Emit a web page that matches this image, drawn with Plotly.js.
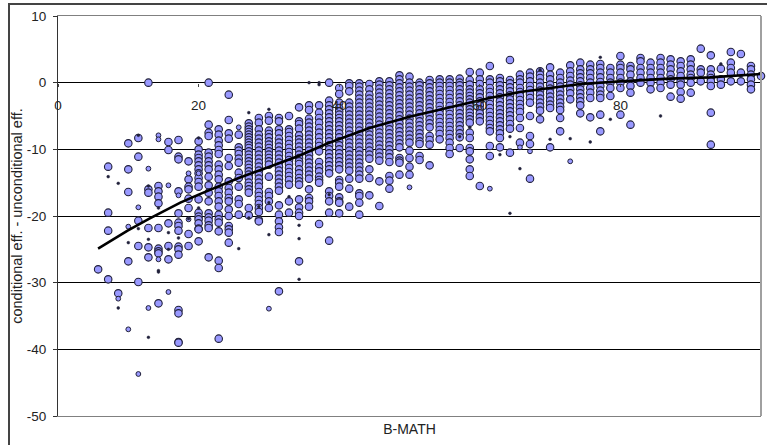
<!DOCTYPE html>
<html><head><meta charset="utf-8">
<script src="https://cdn.plot.ly/plotly-3.0.1.min.js"></script>
<style>
html,body{margin:0;padding:0;background:#fff;overflow:hidden}
#frame{position:absolute;left:8px;top:3px;width:759px;height:442px;border-left:2px solid #444;border-top:2px solid #444;box-sizing:border-box}
#chart{position:absolute;left:0;top:0;width:767px;height:445px}
</style></head><body>
<div id="frame"></div><div id="chart"></div>
<script>
// B-MATH score columns (one score step each)
const bMath = [5.71,7.14,8.57,10,11.43,12.86,14.29,15.71,17.14,18.57,20,21.43,22.86,24.29,25.71,27.14,28.57,30,31.43,32.86,34.29,35.71,37.14,38.57,40,41.43,42.86,44.29,45.71,47.14,48.57,50,51.43,52.86,54.29,55.71,57.14,58.57,60,61.43,62.86,64.29,65.71,67.14,68.57,70,71.43,72.86,74.29,75.71,77.14,78.57,80,81.43,82.86,84.29,85.71,87.14,88.57,90,91.43,92.86,94.29,95.71,97.14,98.57,100];
// Large-bubble values, one list per column
const largeDiff = [
[-28],
[-12.6,-19.5,-22.2,-29.5],
[-31.6],
[-9.1,-13,-16.4,-26.8],
[-8.3,-11.1,-20.7,-24.5,-29.9],
[0,-16,-16.5,-21.8,-24.7,-26.2],
[-15.5,-16.3,-17.1,-18.1,-21.8,-24.9,-25.3,-25.6,-33.1],
[-8.9,-10.1,-21.1,-24.5,-26.5],
[-8.6,-11.1,-11.5,-16.3,-19.6,-21,-21.5,-22.2,-24.6,-25,-25.8,-34.1,-34.6,-38.9,-39],
[-11.8,-14.5,-15.6,-16,-17.4,-18.8,-22.7,-24.5],
[-8.8,-10,-10.8,-11.3,-11.8,-12.4,-13,-13.6,-14.3,-14.9,-15.6,-17.5,-19.5,-20.1,-20.5,-21.1,-21.9,-22,-23.8],
[0,-6.3,-7.5,-8,-10.5,-11.1,-11.8,-12.4,-13,-14.1,-15.4,-16.5,-17.8,-19.6,-20.2,-20.7,-21.4,-21.8,-26.2],
[-7,-7.8,-8.7,-9.4,-10.1,-10.7,-12.3,-13,-13.8,-14.5,-15.6,-16.3,-17,-17.8,-18.6,-19.8,-20.5,-21,-22.3,-26.7,-27.8,-38.4],
[-1.8,-5.6,-7.6,-8.4,-11.3,-12.5,-14.8,-15.8,-16.5,-17.3,-17.8,-19,-20,-21.5,-22,-22.5,-24],
[-7.8,-9.7,-10.2,-10.7,-11.4,-12,-13.5,-14.3,-15.6,-17.5,-18.2,-19.8],
[-6.1,-6.6,-7,-7.4,-7.8,-8.2,-8.6,-9,-9.4,-9.8,-10.3,-10.8,-11.3,-11.8,-12.3,-12.8,-13.3,-13.8,-14.3,-15,-15.5,-16,-16.5,-18.8,-19.9],
[-5.3,-6,-7,-7.8,-8.4,-9,-9.6,-10.2,-10.8,-11.4,-12,-12.6,-13.2,-13.8,-14.4,-15,-15.6,-16.4,-17,-17.6,-18.2,-18.8,-19.4,-20.6,-20.8],
[-5,-5.7,-7.2,-7.7,-8.2,-8.8,-9.3,-9.8,-10.3,-10.8,-11.3,-11.8,-12.3,-14.1,-16.4,-17,-17.8,-18.8],
[-5.3,-5.8,-7,-7.6,-8.4,-9,-9.6,-10.2,-10.8,-11.4,-12,-12.6,-13.2,-13.8,-14.4,-15,-15.6,-16.2,-18.4,-19.8,-20.8,-21.7,-22.4,-31.3],
[-5,-7,-7.4,-8,-8.6,-9.2,-9.8,-10.4,-11,-11.6,-12.2,-12.8,-13.4,-14,-14.6,-15.3,-17.8,-19.5],
[-3.7,-5.8,-6.2,-6.9,-7.9,-8.5,-9,-9.6,-10.2,-10.8,-11.3,-11.8,-12.2,-13,-13.6,-14.3,-14.8,-15.3,-17.5,-18.7,-19.5,-20,-26.8],
[-3.4,-4.1,-5.4,-6,-6.6,-7.2,-7.8,-8.4,-9,-9.6,-10.2,-10.8,-11.4,-12,-12.6,-13.2,-13.8,-14.4,-16,-17.3,-17.8,-18.6],
[-3.4,-4.5,-5.3,-6,-6.8,-7.5,-8.2,-8.9,-9.5,-10.3,-11.9,-12.7,-13.3,-14.1,-14.6,-15,-21.2],
[0,-2.7,-3.4,-4,-4.6,-5.2,-5.8,-6.4,-7,-7.6,-8.2,-8.8,-9.4,-10,-10.6,-11.2,-11.8,-12.4,-13,-13.6,-16.3,-17,-17.8,-19.5,-23.7],
[-0.8,-1.7,-3,-3.8,-4.3,-4.8,-5.3,-5.8,-6.4,-7,-7.6,-8.2,-8.8,-9.4,-10,-10.6,-11.2,-11.8,-12.4,-13,-14.6,-15,-15.6,-17.2,-17.8,-18,-19.6],
[-0.1,-0.5,-1.3,-3,-3.6,-4.2,-4.8,-5.4,-6,-6.6,-7.2,-7.8,-8.4,-9,-9.6,-10.2,-10.8,-11.4,-12,-12.6,-13.2,-14.4,-15.9,-18.6],
[-0.1,-0.6,-1.2,-1.8,-2.4,-3,-3.6,-4.2,-4.8,-5.4,-6,-6.6,-7.2,-7.8,-8.4,-9,-9.6,-10.2,-10.8,-11.4,-12,-12.6,-13.2,-13.8,-14.4,-16.6,-17,-18,-19.8],
[-0.2,-1,-1.8,-2.4,-3,-3.6,-4.2,-4.8,-5.4,-6,-6.6,-7.2,-7.8,-8.4,-9,-9.6,-10.2,-10.8,-11.4,-13,-14.3,-16.9],
[0.2,-0.3,-0.9,-1.5,-2.1,-2.7,-3.3,-3.9,-4.5,-5.1,-5.7,-6.3,-6.9,-7.5,-8.1,-8.7,-9.3,-9.9,-10.5,-11.1,-11.7,-14.8,-18.5],
[0.2,-0.4,-1,-1.6,-2.2,-2.8,-3.4,-4,-4.6,-5.2,-5.8,-6.4,-7,-7.6,-8.2,-8.8,-9.4,-10,-10.6,-11.2,-11.9,-14,-14.7,-15.9],
[1.1,0.5,-0.1,-0.7,-1.3,-1.9,-2.5,-3.1,-3.7,-4.3,-4.9,-5.5,-6.1,-6.7,-7.3,-7.9,-8.5,-9.1,-9.7,-11.3,-11.7,-12,-13.8],
[0.9,0,-0.6,-1.2,-1.8,-2.4,-3,-3.6,-4.2,-4.8,-5.4,-6,-6.6,-7.2,-7.8,-8.4,-9,-10.2,-11.3,-12.6,-13.8],
[0,-0.4,-1,-1.6,-2.2,-2.8,-3.4,-4,-4.6,-5.2,-5.8,-6.4,-7,-7.6,-8.2,-8.8,-9.2,-11,-11.6],
[0.4,-0.1,-0.7,-1.3,-1.9,-2.5,-3.1,-3.7,-4.3,-4.9,-5.5,-6.1,-6.7,-8,-8.6,-9.3,-12.4],
[0.5,0,-0.5,-1.1,-1.7,-2.3,-2.9,-3.5,-4.1,-4.7,-5.3,-5.9,-6.5,-7.1,-7.7,-8.5],
[0.5,0,-0.5,-1.1,-1.7,-2.3,-2.9,-3.5,-4.1,-4.7,-5.3,-5.9,-6.5,-7.1,-7.7,-8.3,-9,-9.8,-10.7],
[0.6,0,-0.4,-1,-1.6,-2.2,-2.8,-3.4,-4,-4.6,-5.2,-5.8,-6.4,-7,-7.6,-8.2,-9.8],
[1.6,0.4,-0.3,-1,-1.5,-2,-2.5,-3,-3.5,-4,-4.5,-5,-5.5,-6,-7.5,-8.3,-9.8,-10.3,-11.5,-13,-14],
[1.5,0.5,-0.2,-1,-1.6,-2.2,-2.8,-3.4,-4,-4.6,-5.2,-5.8,-15.5],
[2.5,0.5,0,-0.8,-1.4,-2,-2.6,-3.2,-3.8,-4.4,-5,-5.6,-6.2,-6.8,-7.3,-9.5,-11],
[0.7,0.2,-0.4,-1,-1.6,-2.2,-2.8,-3.4,-4,-4.6,-5.2,-5.8,-6.4,-7,-7.6,-8.3,-9.7],
[3.4,0.4,-0.1,-0.7,-1.3,-1.9,-2.5,-3.1,-3.7,-4.3,-4.9,-5.5,-6.2,-6.9,-10.5],
[1.2,0.5,0,-0.8,-1.4,-2,-2.6,-3.2,-3.8,-4.4,-5.3,-6.8,-9],
[1.5,0.9,0.2,-0.5,-1.1,-1.7,-2.3,-3,-5,-8,-9.2,-14.4],
[1.7,1.2,0.7,0,-0.6,-1.2,-1.8,-2.4,-3,-3.6,-4.2,-5.5],
[2.3,1.2,0.5,-0.3,-0.9,-1.5,-2.1,-2.7,-3.3,-3.8,-9.7],
[1.5,0.7,0,-0.6,-1.2,-1.8,-2.4,-3,-3.6,-4.1,-5.3,-7.3],
[2.6,1.7,1,0.3,-0.3,-1,-1.6,-2.5],
[3,2,1.4,0.8,0.2,-0.4,-1,-1.6,-2.2,-2.8,-3.4,-4.6],
[2.7,2,1.4,0.7,0,-0.8,-1.5,-2.3,-5.2],
[2.8,2.2,1.5,0.8,0.1,-0.5,-1.2,-1.8,-2.3,-4.8,-7.3],
[2.2,1.5,0.7,0,-0.8,-2],
[4,2.7,2.2,1.5,0.7,0,-0.8,-4.8],
[2.5,2,1.2,0.2,-0.5,-1.5,-6.3],
[3.7,3.2,2.2,1.5,0.7,0],
[3,2.2,1.5,0.7,0,-1],
[3.7,3,2.2,1.5,0.7,0,-0.8],
[3.5,2.7,2,1.2,0.5,-0.3,-2.1],
[3.2,2.5,1.7,1,0.2,-0.3,-1.4,-2.4],
[3.5,2.7,2,1.2,0.7,0,-1.5],
[5.1,2,1.5,0.2],
[4.1,2,1.2,0.7,0.2,-0.5,-4.5,-9.3],
[2.1,0.5,-0.3],
[4.6,3,2.2,1.5,0.2],
[4.3,1.5,0.2],
[2.5,2,1.2,0.5,-0.3,-1],
[1]
];
// Medium bubbles
const mediumX = [10,10,11.43,11.43,12.86,12.86,14.29,14.29,14.29,15.71,15.71,17.14,18.57,18.57,25.71,30,50,61.43,65.71,67.14,72.86,20,8.57];
const mediumY = [-21.6,-37,-18.7,-43.7,-12.9,-33.8,-7.9,-8.5,-26.5,-15.4,-31.4,-16.9,-13.6,-20.5,-6.7,-33.9,-15.7,-15.9,-9.7,-10.3,-11.8,-13.6,-32.4];
// Small dots
const smallX = [7.14,8.57,8.57,10,11.43,11.43,12.86,12.86,12.86,14.29,14.29,14.29,15.71,15.71,17.14,18.57,20,20,25.71,27.14,27.14,30,30,32.86,34.29,34.29,35.71,37.14,30,28.57,34.29,37.14,38.57,57.14,65.71,58.57,68.57,62.86,72.86,75.71,77.14,78.57,85.71,94.29,64.29,64.29,70];
const smallY = [-14.1,-15.1,-33.8,-24,-7.9,-21.9,-15.5,-23.5,-38.2,-18.8,-28.2,-28.4,-22.5,-25,-23.3,-20.4,-8.3,-18.8,-24.9,-4.5,-20.3,-4,-22.8,-17.1,-29.5,-21.4,0,0,-18,-18.6,-23.4,-0.3,-16.8,-8.1,-12.9,-6.7,1.9,-10.8,-8.4,-8.9,3.8,-5.5,-5,2.8,-19.6,-8.1,-8.5];
// Fitted curve
const curveX = [5.7,9.9,13,14.1,17.4,20,25.7,29.9,34.2,38.4,44.3,50,55.7,58.6,61.4,65.7,70,74.3,80,87,92.7,100];
const curveY = [-24.9,-22.2,-20.4,-19.8,-18,-16.8,-14.3,-12.7,-11,-9.1,-6.8,-5.1,-3.7,-3,-2.3,-1.4,-0.8,-0.2,0.2,0.6,0.8,1.3];
const yTicks = [10,0,-10,-20,-30,-40,-50];
const xTicks = [0,20,40,60,80,100];

const largeX = [], largeY = [];
largeDiff.forEach((col,i)=>col.forEach(v=>{largeX.push(bMath[i]);largeY.push(v);}));

const edge = '#20203a';
const traces = [
 {type:'scatter',mode:'markers',x:largeX,y:largeY,hoverinfo:'skip',cliponaxis:false,
  marker:{size:7.5,color:'#9999ff',line:{color:edge,width:1.1}}},
 {type:'scatter',mode:'markers',x:mediumX,y:mediumY,hoverinfo:'skip',cliponaxis:false,
  marker:{size:4.8,color:'#9999ff',line:{color:edge,width:1}}},
 {type:'scatter',mode:'markers',x:smallX,y:smallY,hoverinfo:'skip',cliponaxis:false,
  marker:{size:2.8,color:'#20203a',line:{color:'#20203a',width:0.5}}},
 {type:'scatter',mode:'lines',x:curveX,y:curveY,hoverinfo:'skip',cliponaxis:false,
  line:{color:'#000',width:2.6}},
 {type:'scatter',mode:'markers',x:[null],y:[null],xaxis:'x2',hoverinfo:'skip'}
];
const fontCol = '#222';
const fontFam = 'Liberation Sans, Arial, sans-serif';
const layout = {
 width:767,height:445,showlegend:false,
 paper_bgcolor:'rgba(0,0,0,0)',plot_bgcolor:'rgba(0,0,0,0)',
 font:{family:fontFam,size:13,color:fontCol},
 margin:{l:57.5,r:6,t:16,b:28.5,pad:0},
 xaxis:{range:[0,100],showgrid:false,zeroline:false,showticklabels:false,ticks:'',
   showline:true,linecolor:'#808080',linewidth:1,mirror:true,
   title:{text:'B-MATH',font:{size:14,family:fontFam,color:fontCol},standoff:8},automargin:true},
 xaxis2:{range:[0,100],overlaying:'x',anchor:'free',position:50/60,side:'bottom',
   tickmode:'array',tickvals:xTicks,ticktext:xTicks.map(String),ticks:'outside',ticklen:3,tickcolor:'#444',
   ticklabelstandoff:7,showgrid:false,zeroline:false,showline:false,
   tickfont:{size:13.5,family:fontFam,color:fontCol}},
 yaxis:{range:[-50,10],tickmode:'array',tickvals:yTicks,ticktext:yTicks.map(v=>v<0?'-'+(-v):String(v)),
   showgrid:true,gridcolor:'#000',gridwidth:1,zeroline:true,zerolinecolor:'#000',zerolinewidth:1,
   ticks:'outside',ticklen:4,tickcolor:'#333',showline:true,linecolor:'#333',linewidth:1,ticklabelstandoff:4,
   tickfont:{size:13.5,family:fontFam,color:fontCol},automargin:true,
   title:{text:'conditional eff. - unconditional eff.',font:{size:14.5,family:fontFam,color:fontCol},standoff:0}},
 shapes:[{type:'line',xref:'paper',yref:'paper',x0:1,x1:1,y0:0,y1:1,line:{color:'#a0a0a0',width:2}}]
};
Plotly.newPlot('chart',traces,layout,{displayModeBar:false,staticPlot:true});
</script>
</body></html>
